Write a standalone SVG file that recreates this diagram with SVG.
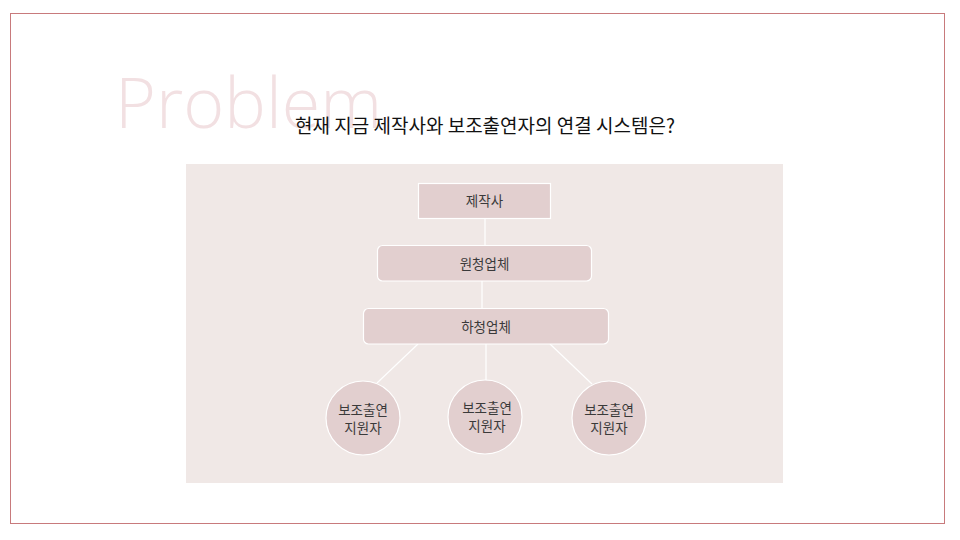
<svg xmlns="http://www.w3.org/2000/svg" width="960" height="540" viewBox="0 0 960 540">
<style>
.node{fill:#e2cfcf;stroke:#ffffff;stroke-width:1.2}
.lbl{font-family:"Noto Sans CJK KR","Noto Sans",sans-serif;font-size:13.5px;fill:#3a3a3a;text-anchor:middle}
.conn line{stroke:#ffffff;stroke-width:1.2}
</style>
<rect x="0" y="0" width="960" height="540" fill="#ffffff"/>
<rect x="10.5" y="13.5" width="934" height="510" fill="none" stroke="#c87a7c" stroke-width="1"/>
<text x="115" y="128" font-family="'Open Sans','Noto Sans',sans-serif" font-weight="300" font-size="70" fill="#f2e0e2">Problem</text>
<text x="485" y="133" font-family="'Noto Sans CJK KR',sans-serif" font-size="19" fill="#111111" text-anchor="middle">현재 지금 제작사와 보조출연자의 연결 시스템은?</text>
<rect x="186" y="164" width="597" height="319" fill="#f0e8e6"/>
<g class="conn">
<line x1="485" y1="218" x2="485" y2="245"/>
<line x1="482" y1="281" x2="482" y2="308"/>
<line x1="418" y1="344" x2="377" y2="383"/>
<line x1="486" y1="344" x2="486" y2="381"/>
<line x1="550" y1="344" x2="592" y2="384"/>
</g>
<g id="n1"><rect class="node" x="418.5" y="183.5" width="132" height="35"/><text class="lbl" x="484.5" y="206">제작사</text></g>
<g id="n2"><rect class="node" x="377.5" y="245.5" width="214" height="35.5" rx="5"/><text class="lbl" x="484.5" y="268.5">원청업체</text></g>
<g id="n3"><rect class="node" x="363.5" y="308.5" width="245" height="35.5" rx="5"/><text class="lbl" x="486" y="331.5">하청업체</text></g>
<g id="n4"><circle class="node" cx="363" cy="418" r="37"/><text class="lbl" x="363" y="415">보조출연</text><text class="lbl" x="363" y="433">지원자</text></g>
<g id="n5"><circle class="node" cx="485" cy="417" r="37"/><text class="lbl" x="487" y="413">보조출연</text><text class="lbl" x="487" y="431">지원자</text></g>
<g id="n6"><circle class="node" cx="609" cy="418" r="37"/><text class="lbl" x="609" y="415">보조출연</text><text class="lbl" x="609" y="433">지원자</text></g>
</svg>
